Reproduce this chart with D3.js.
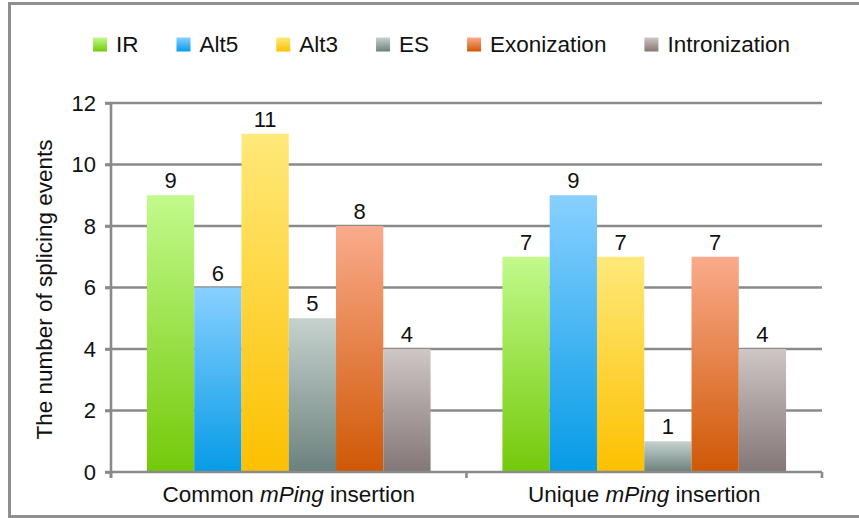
<!DOCTYPE html>
<html>
<head>
<meta charset="utf-8">
<script src="https://cdn.jsdelivr.net/npm/d3@7"></script>
<style>
  html, body { margin: 0; padding: 0; background: #fff; }
  svg { display: block; font-family: "Liberation Sans", Arial, Helvetica, sans-serif; }
</style>
</head>
<body>
<svg id="chart" width="859" height="518"></svg>
<script>
// Splicing event counts per category and event type
const groups = ["Common", "Unique"];
const groupSuffix = "insertion";
const seriesNames = ["IR", "Alt5", "Alt3", "ES", "Exonization", "Intronization"];
const commonValues = [9, 6, 11, 5, 8, 4];
const uniqueValues = [7, 9, 7, 1, 7, 4];
const yTicks = [0, 2, 4, 6, 8, 10, 12];

// Gradient stops (top, bottom) for each event type
const topColors = ["#c2fa8c", "#88d0ff", "#ffe97a", "#c6d2ce", "#faab8c", "#cfc6c6"];
const bottomColors = ["#74c90a", "#069be6", "#fcc000", "#6b817d", "#cf5805", "#837676"];

const valuesByGroup = [commonValues, uniqueValues];

const svg = d3.select("#chart");
const W = 859, H = 518;
const margin = { left: 111, right: 37, top: 103, bottom: 46 };
const plotW = W - margin.left - margin.right;
const plotH = H - margin.top - margin.bottom;
const gridColor = "#8a8a8a";

// Outer frame
svg.append("rect")
  .attr("x", 9.5).attr("y", 3.5)
  .attr("width", W + 20).attr("height", 513)
  .attr("fill", "none").attr("stroke", "#8f8f8f").attr("stroke-width", 3);

// Gradients
const defs = svg.append("defs");
seriesNames.forEach((name, i) => {
  const g = defs.append("linearGradient")
    .attr("id", "grad" + i)
    .attr("x1", 0).attr("y1", 0).attr("x2", 0).attr("y2", 1);
  g.append("stop").attr("offset", "0%").attr("stop-color", topColors[i]);
  g.append("stop").attr("offset", "100%").attr("stop-color", bottomColors[i]);
});

const plot = svg.append("g").attr("transform", `translate(${margin.left},${margin.top})`);

const y = d3.scaleLinear().domain([0, 12]).range([plotH, 0]);
const x0 = d3.scaleBand().domain(groups).range([0, plotW]).paddingInner(0).paddingOuter(0);
const x1 = d3.scaleBand().domain(seriesNames)
  .range([0, x0.bandwidth()]).paddingInner(0).paddingOuter(0.76);

// Horizontal gridlines (with tick stubs left of the axis)
plot.append("g").selectAll("line")
  .data(yTicks.filter(d => d > 0))
  .join("line")
  .attr("x1", -6).attr("x2", plotW)
  .attr("y1", d => y(d)).attr("y2", d => y(d))
  .attr("stroke", gridColor).attr("stroke-width", 2.6);

// Y axis tick labels
const yAxis = d3.axisLeft(y).tickValues(yTicks).tickSize(6).tickPadding(9);
const yg = plot.append("g").call(yAxis);
yg.select(".domain").remove();
yg.selectAll(".tick line").attr("stroke", gridColor).attr("stroke-width", 2.6);
yg.selectAll(".tick text")
  .attr("font-size", 22).attr("fill", "#111")
  .attr("font-family", "Liberation Sans, Arial, sans-serif");

// Bars
const groupG = plot.selectAll(".grp")
  .data(groups)
  .join("g")
  .attr("class", "grp")
  .attr("transform", d => `translate(${x0(d)},0)`);

groupG.each(function(gName, gi) {
  const vals = valuesByGroup[gi];
  const g = d3.select(this);
  g.selectAll("rect")
    .data(seriesNames)
    .join("rect")
    .attr("x", s => x1(s))
    .attr("width", x1.bandwidth())
    .attr("y", (s, i) => y(vals[i]))
    .attr("height", (s, i) => y(0) - y(vals[i]))
    .attr("fill", (s, i) => `url(#grad${i})`);
  g.selectAll("text.val")
    .data(seriesNames)
    .join("text")
    .attr("class", "val")
    .attr("x", s => x1(s) + x1.bandwidth() / 2)
    .attr("y", (s, i) => y(vals[i]) - 7)
    .attr("text-anchor", "middle")
    .attr("font-size", 22)
    .attr("fill", "#111")
    .text((s, i) => vals[i]);
});

// Axes lines
plot.append("line")
  .attr("x1", 0).attr("x2", 0).attr("y1", 0).attr("y2", plotH + 6)
  .attr("stroke", gridColor).attr("stroke-width", 2.6);
plot.append("line")
  .attr("x1", -6).attr("x2", plotW).attr("y1", plotH).attr("y2", plotH)
  .attr("stroke", gridColor).attr("stroke-width", 2.6);
// Category boundary ticks
plot.append("g").selectAll("line")
  .data([0, x0.bandwidth(), plotW])
  .join("line")
  .attr("x1", d => d).attr("x2", d => d)
  .attr("y1", plotH).attr("y2", plotH + 6)
  .attr("stroke", gridColor).attr("stroke-width", 2.6);

// Category labels with italic mPing
groups.forEach(gName => {
  const t = plot.append("text")
    .attr("x", x0(gName) + x0.bandwidth() / 2)
    .attr("y", plotH + 30)
    .attr("text-anchor", "middle")
    .attr("font-size", 22.5)
    .attr("fill", "#111");
  t.append("tspan").text(gName + " ");
  t.append("tspan").attr("font-style", "italic").text("mPing");
  t.append("tspan").text(" " + groupSuffix);
});

// Y axis title
svg.append("text")
  .attr("transform", `translate(52,${margin.top + plotH / 2 + 2}) rotate(-90)`)
  .attr("text-anchor", "middle")
  .attr("font-size", 22.5)
  .attr("fill", "#111")
  .text("The number of splicing events");

// Legend
const legend = svg.append("g").attr("transform", "translate(93,0)");
let lx = 0;
seriesNames.forEach((name, i) => {
  const item = legend.append("g").attr("transform", `translate(${lx},0)`);
  item.append("rect")
    .attr("x", 0).attr("y", 37.5).attr("width", 14).attr("height", 14)
    .attr("fill", `url(#grad${i})`);
  const t = item.append("text")
    .attr("x", 23).attr("y", 51.5)
    .attr("font-size", 22.5)
    .attr("fill", "#111")
    .text(name);
  lx += 23 + t.node().getComputedTextLength() + 38;
});
</script>
</body>
</html>
